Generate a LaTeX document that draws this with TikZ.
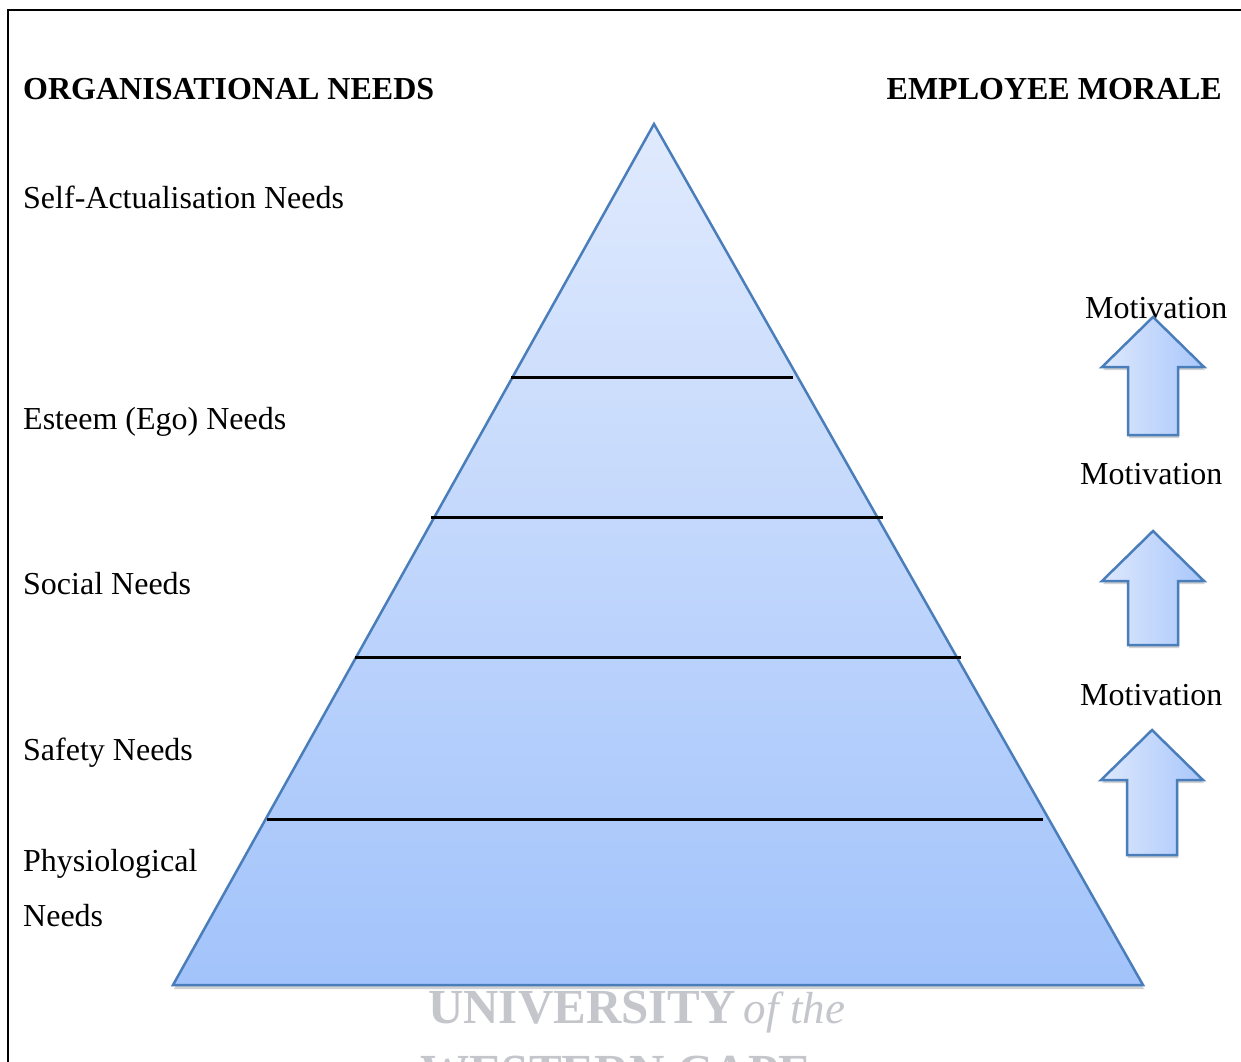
\documentclass[tikz,border=0pt]{standalone}
\usepackage{fontspec}
\setmainfont{Liberation Serif}
\usetikzlibrary{shadows}
\definecolor{pyrtop}{HTML}{E0EAFD}
\definecolor{pyrbot}{HTML}{A2C3FB}
\definecolor{pyredge}{HTML}{4A7EBB}
\definecolor{arrL}{HTML}{DDE8FD}
\definecolor{arrR}{HTML}{A9C7FB}
\definecolor{wmark}{HTML}{C4C6CC}
\tikzset{
  lbl/.style={anchor=base west, inner sep=0pt, font=\fontsize{32}{38}\selectfont},
  head/.style={inner sep=0pt, font=\fontsize{32}{38}\selectfont\bfseries},
  level/.style={line width=3pt, black},
  upbox/.style={draw=pyredge, line width=2.5pt, left color=arrL, right color=arrR,
    drop shadow={opacity=0.35, shadow xshift=1pt, shadow yshift=-3pt}},
  pyr/.style={draw=pyredge, line width=2.5pt, top color=pyrtop, bottom color=pyrbot,
    drop shadow={opacity=0.35, shadow xshift=1pt, shadow yshift=-4pt}},
  wm/.style={anchor=base west, inner sep=0pt, text=wmark}
}
\begin{document}
\begin{tikzpicture}[x=1pt,y=-1pt]
\useasboundingbox (0,0) rectangle (1241,1061);
\clip (0,0) rectangle (1241,1061);
\fill[white] (0,0) rectangle (1241,1061);
% frame (left and top edges)
\draw[line width=2.5pt] (8,1070) -- (8,10) -- (1250,10);
% pyramid
\path[pyr] (654,124) -- (1143,985) -- (173,985) -- cycle;
% level lines
\draw[level] (511,377) -- (793,377);
\draw[level] (431,517) -- (883,517);
\draw[level] (355,657) -- (961,657);
\draw[level] (267,819) -- (1043,819);
% headings
\node[head, anchor=base west] (orgn) at (23,99) {ORGANISATIONAL NEEDS};
\node[head, anchor=base east] (empm) at (1222,99) {EMPLOYEE MORALE};
% left labels
\node[lbl] (selfact) at (23,208) {Self-Actualisation Needs};
\node[lbl] (esteem) at (23,429) {Esteem (Ego) Needs};
\node[lbl] (social) at (23,594) {Social Needs};
\node[lbl] (safety) at (23,760) {Safety Needs};
\node[lbl] (physio) at (23,871) {Physiological};
\node[lbl] (physio2) at (23,926) {Needs};
% motivation labels
\node[lbl] (mot1) at (1085,318) {Motivation};
\node[lbl] (mot2) at (1080,484) {Motivation};
\node[lbl] (mot3) at (1080,705) {Motivation};
% arrows
\foreach \tx/\ty/\len in {1153/317/118, 1153/531/114, 1152/730/125}{
  \path[upbox] (\tx,\ty) -- (\tx+51,\ty+50) -- (\tx+25,\ty+50) -- (\tx+25,\ty+\len)
    -- (\tx-25,\ty+\len) -- (\tx-25,\ty+50) -- (\tx-51,\ty+50) -- cycle;
}
% watermark
\node[wm, font=\fontsize{49}{56}\selectfont\bfseries] (wm1) at (428,1023) {UNIVERSITY};
\node[wm, font=\fontsize{45}{52}\selectfont\itshape, anchor=base west] (wm2) at (wm1.base east) {\,of the};
\node[wm, font=\fontsize{49}{56}\selectfont\bfseries] (wm3) at (420,1088) {WESTERN CAPE};
\end{tikzpicture}
\end{document}
